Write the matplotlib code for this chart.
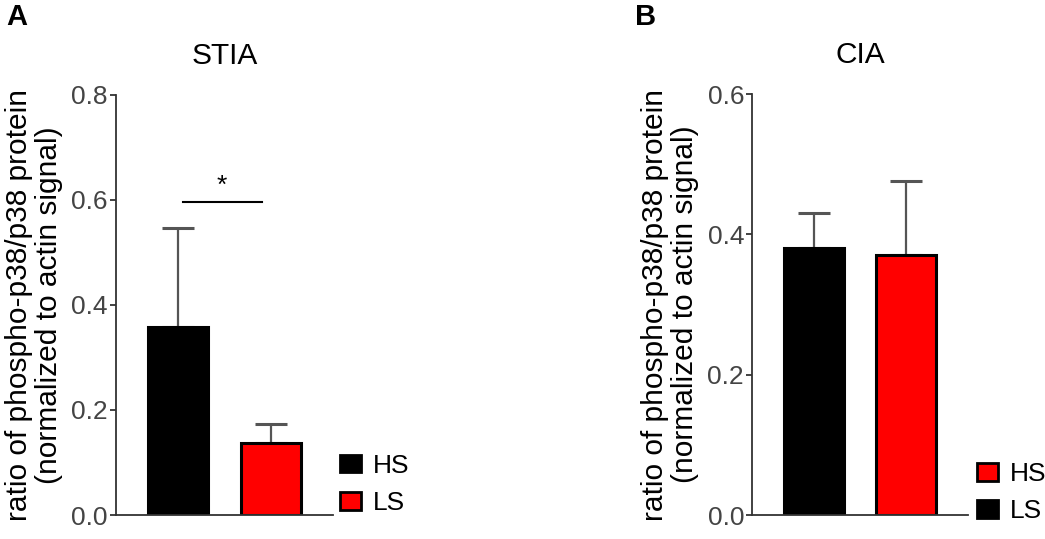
import matplotlib
matplotlib.use("Agg")
import matplotlib.pyplot as plt
from matplotlib.patches import Patch

plt.rcParams['font.family'] = ['Liberation Sans', 'DejaVu Sans']

groups = ["HS", "LS"]
stia_mean = [0.358, 0.137]
stia_err = [0.189, 0.036]
cia_mean = [0.380, 0.371]
cia_err = [0.050, 0.105]
stia_colors = ["black", "#ff0000"]
cia_colors = ["black", "#ff0000"]
# legend in panel B is swapped in the original figure
cia_legend_colors = ["#ff0000", "black"]
ylab = "ratio of phospho-p38/p38 protein\n(normalized to actin signal)"

fig = plt.figure(figsize=(10.45, 5.39), dpi=100)
axA = fig.add_axes([0.111, 0.0445, 0.208, 0.78])
axB = fig.add_axes([0.720, 0.0445, 0.206, 0.781])

def draw(ax, means, errs, colors, ymax, title, leg_colors, leg_anchor):
    x = list(range(len(means)))
    ax.bar(x, means, width=0.65, color=colors, edgecolor="black", linewidth=2.2, zorder=2)
    ax.errorbar(x, means, yerr=[[0, 0], errs], fmt="none", ecolor="#555555",
                elinewidth=1.6, capsize=11.5, capthick=2.2, zorder=1)
    ax.set_ylim(0, ymax)
    n = int(round(ymax / 0.2)) + 1
    ax.set_yticks([i * 0.2 for i in range(n)])
    ax.set_yticklabels([f"{i * 0.2:.1f}" for i in range(n)])
    ax.set_xlim(-0.665, 1.67)
    ax.set_xticks([])
    for s in ["top", "right"]:
        ax.spines[s].set_visible(False)
    for s in ["left", "bottom"]:
        ax.spines[s].set_color("#333333")
        ax.spines[s].set_linewidth(1.3)
    ax.tick_params(axis="y", length=4.5, width=1.3, color="#333333",
                   labelsize=19, labelcolor="#444444", pad=1.5)
    ax.set_title(title, fontsize=21.5, pad=22)
    ax.set_ylabel(ylab, fontsize=21.5, labelpad=6, linespacing=1.1)
    handles = [Patch(facecolor=c, edgecolor="black", linewidth=2) for c in leg_colors]
    ax.legend(handles, groups, loc="lower left", bbox_to_anchor=leg_anchor, frameon=False,
              fontsize=19, handlelength=0.8, handleheight=0.65, handletextpad=0.45,
              labelspacing=0.5, borderaxespad=0, borderpad=0)

draw(axA, stia_mean, stia_err, stia_colors, 0.8, "STIA", stia_colors, (1.032, 0.0))
draw(axB, cia_mean, cia_err, cia_colors, 0.6, "CIA", cia_legend_colors, (1.042, -0.02))

# significance bar
axA.plot([0.05, 0.9], [0.596, 0.596], color="black", linewidth=1.5)
axA.text(0.475, 0.603, "*", ha="center", va="bottom", fontsize=19)

fig.text(0.006, 0.995, "A", fontsize=21, fontweight="bold", va="top")
fig.text(0.608, 0.995, "B", fontsize=21, fontweight="bold", va="top")

fig.savefig("out.png", dpi=100)
